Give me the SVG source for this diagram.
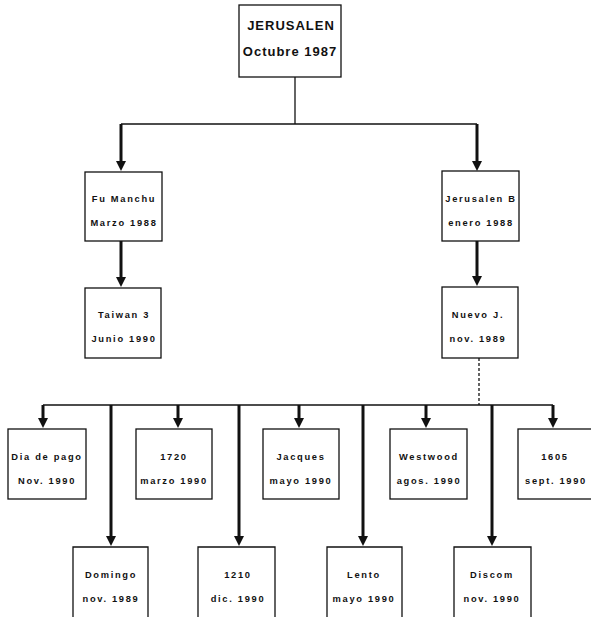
<svg xmlns="http://www.w3.org/2000/svg" width="591" height="617" viewBox="0 0 591 617">
<style>
.box{fill:#fff;stroke:#111;stroke-width:1.3}
.t{font-family:"Liberation Sans",Arial,sans-serif;font-weight:bold;font-size:9.3px;letter-spacing:1.7px;fill:#111;text-anchor:middle}
.tr{font-family:"Liberation Sans",Arial,sans-serif;font-weight:bold;font-size:13px;letter-spacing:1px;fill:#111;text-anchor:middle}
.thin{stroke:#111;stroke-width:1.3;fill:none}
.arr{stroke:#111;stroke-width:3;fill:none;marker-end:url(#ah)}
</style>
<defs>
<marker id="ah" markerUnits="userSpaceOnUse" markerWidth="10" markerHeight="10" viewBox="0 0 10 10" refX="1" refY="5" orient="auto">
<path d="M0,0 L10,5 L0,10 Z" fill="#111"/>
</marker>
</defs>
<rect width="591" height="617" fill="#fff"/>
<g id="connectors">
<line class="thin" x1="295" y1="77" x2="295" y2="124"/>
<line class="thin" x1="121" y1="124" x2="477" y2="124"/>
<line class="arr" x1="121" y1="124" x2="121" y2="162"/>
<line class="arr" x1="477" y1="124" x2="477" y2="162"/>
<line class="arr" x1="121" y1="241" x2="121" y2="278"/>
<line class="arr" x1="477" y1="241" x2="477" y2="277"/>
<line class="thin" x1="479" y1="358" x2="479" y2="405" stroke-dasharray="3 2"/>
<line class="thin" x1="43" y1="405" x2="553" y2="405"/>
<line class="arr" x1="43" y1="405" x2="43" y2="419"/>
<line class="arr" x1="178" y1="405" x2="178" y2="419"/>
<line class="arr" x1="299" y1="405" x2="299" y2="419"/>
<line class="arr" x1="426" y1="405" x2="426" y2="419"/>
<line class="arr" x1="553" y1="405" x2="553" y2="419"/>
<line class="arr" x1="111" y1="405" x2="111" y2="537"/>
<line class="arr" x1="239" y1="405" x2="239" y2="537"/>
<line class="arr" x1="363" y1="405" x2="363" y2="537"/>
<line class="arr" x1="492" y1="405" x2="492" y2="537"/>
</g>
<g id="jerusalen">
<rect class="box" x="239" y="5" width="102" height="72"/>
<text class="tr" x="291" y="30">JERUSALEN</text>
<text class="tr" x="290" y="56">Octubre 1987</text>
</g>
<g id="fumanchu">
<rect class="box" x="85" y="172" width="77" height="69"/>
<text class="t" x="124" y="202">Fu Manchu</text>
<text class="t" x="124" y="226">Marzo 1988</text>
</g>
<g id="jerusalenb">
<rect class="box" x="442" y="171" width="77" height="70"/>
<text class="t" x="481" y="202">Jerusalen B</text>
<text class="t" x="481" y="226">enero 1988</text>
</g>
<g id="taiwan">
<rect class="box" x="85" y="288" width="76" height="70"/>
<text class="t" x="124" y="318">Taiwan 3</text>
<text class="t" x="124" y="342">Junio 1990</text>
</g>
<g id="nuevoj">
<rect class="box" x="442" y="287" width="76" height="71"/>
<text class="t" x="478" y="318">Nuevo J.</text>
<text class="t" x="478" y="342">nov. 1989</text>
</g>
<g id="diadepago">
<rect class="box" x="8" y="429" width="78" height="70"/>
<text class="t" x="47" y="460">Dia de pago</text>
<text class="t" x="47" y="484">Nov. 1990</text>
</g>
<g id="n1720">
<rect class="box" x="136" y="429" width="76" height="70"/>
<text class="t" x="174" y="460">1720</text>
<text class="t" x="174" y="484">marzo 1990</text>
</g>
<g id="jacques">
<rect class="box" x="263" y="429" width="76" height="70"/>
<text class="t" x="301" y="460">Jacques</text>
<text class="t" x="301" y="484">mayo 1990</text>
</g>
<g id="westwood">
<rect class="box" x="390" y="429" width="77" height="70"/>
<text class="t" x="429" y="460">Westwood</text>
<text class="t" x="429" y="484">agos. 1990</text>
</g>
<g id="n1605">
<rect class="box" x="518" y="429" width="76" height="70"/>
<text class="t" x="555" y="460">1605</text>
<text class="t" x="556" y="484">sept. 1990</text>
</g>
<g id="domingo">
<path class="box" d="M73,620 V547 H148 V620"/>
<text class="t" x="111" y="578">Domingo</text>
<text class="t" x="111" y="602">nov. 1989</text>
</g>
<g id="n1210">
<path class="box" d="M198,620 V547 H275 V620"/>
<text class="t" x="238" y="578">1210</text>
<text class="t" x="238" y="602">dic. 1990</text>
</g>
<g id="lento">
<path class="box" d="M327,620 V547 H402 V620"/>
<text class="t" x="364" y="578">Lento</text>
<text class="t" x="364" y="602">mayo 1990</text>
</g>
<g id="discom">
<path class="box" d="M454,620 V547 H531 V620"/>
<text class="t" x="492" y="578">Discom</text>
<text class="t" x="492" y="602">nov. 1990</text>
</g>
</svg>
